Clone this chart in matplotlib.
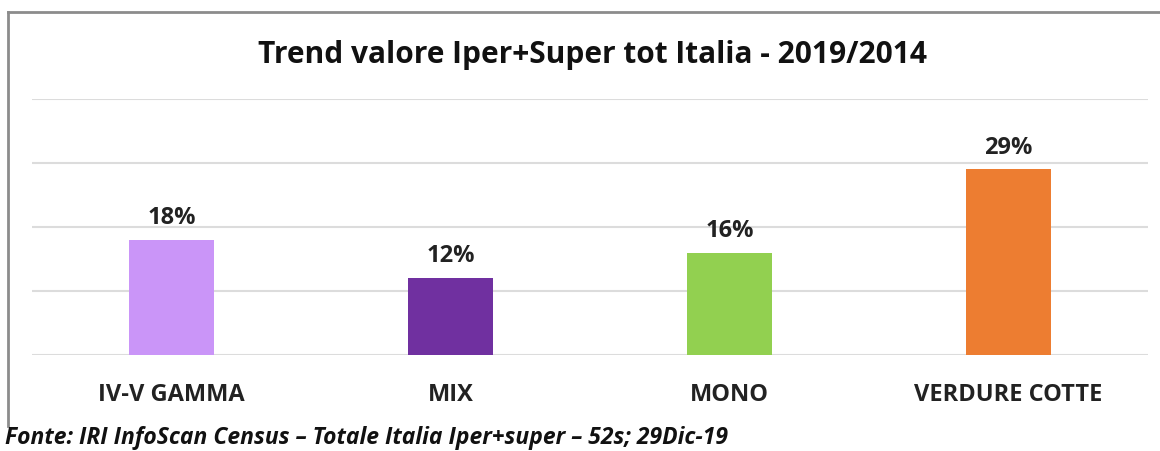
import matplotlib
matplotlib.use('Agg')
import matplotlib.pyplot as plt
from matplotlib.lines import Line2D

###### Data
categories = ['IV-V GAMMA', 'MIX', 'MONO', 'VERDURE COTTE']
values = [18, 12, 16, 29]
colors = ['#CA95F8', '#7030A0', '#92D050', '#ED7D31']
title = 'Trend valore Iper+Super tot Italia - 2019/2014'
source = 'Fonte: IRI InfoScan Census \u2013 Totale Italia Iper+super \u2013 52s; 29Dic-19'

plt.rcParams['font.family'] = ['Open Sans', 'DejaVu Sans']

fig = plt.figure(figsize=(11.6, 4.51), dpi=100)
ax = fig.add_axes([32/1160, 1-355/451, 1116/1160, 256/451])

x = range(len(categories))
bars = ax.bar(x, values, width=0.305, color=colors, zorder=3)

for xi, v in zip(x, values):
    ax.annotate('%d%%' % v, (xi, v), xytext=(0, 7), textcoords='offset points',
                ha='center', va='bottom', fontsize=17, fontweight='bold', color='#222222')

ax.set_xlim(-0.5, 3.5)
ax.set_ylim(0, 40)
ax.set_yticks([0, 10, 20, 30, 40])
ax.grid(axis='y', color='#dcdcdc', lw=1.5, zorder=0)
ax.set_yticklabels([])
ax.tick_params(axis='y', length=0)
ax.set_xticks(list(x))
ax.set_xticklabels(categories, fontsize=17, fontweight='bold', color='#222222')
ax.tick_params(axis='x', length=0, pad=20)
for s in ax.spines.values():
    s.set_visible(False)

fig.text(593/1160, 1-55/451, title, ha='center', va='center', fontsize=21.5,
         fontweight='bold', color='#111111')
fig.text(5/1160, 1-444/451, source, ha='left', va='baseline', fontsize=16.5,
         fontweight='bold', style='italic', color='#111111')

# frame of the chart area
fig.add_artist(Line2D([8/1160, 1.0], [1-12/451, 1-12/451], color='#8c8c8c', lw=2))
fig.add_artist(Line2D([8/1160, 8/1160], [1-12/451, 1-426/451], color='#8c8c8c', lw=2))

fig.savefig('out.png', dpi=100, facecolor='white')
